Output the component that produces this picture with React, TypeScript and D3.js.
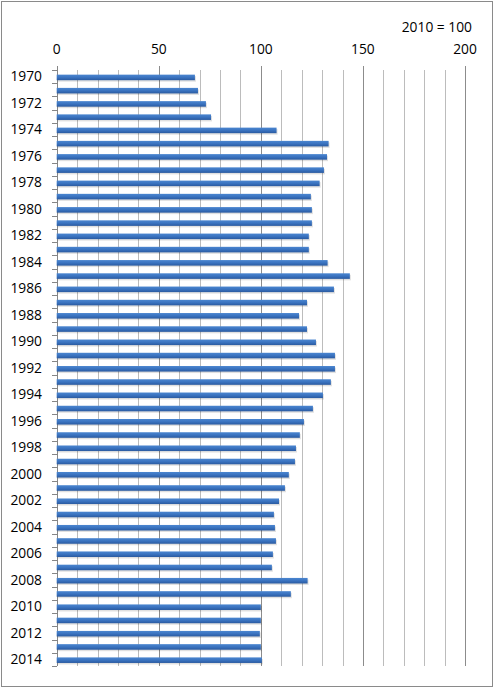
import React from "react";
import * as d3 from "d3";

const years: number[] = d3.range(1970, 2015);
const values: number[] = [
  67.7, 69.2, 73.1, 75.6, 107.7,
  133.2, 132.4, 130.9, 128.8, 124.5,
  125.0, 125.0, 123.5, 123.5, 132.7,
  143.6, 135.8, 122.6, 118.7, 122.6,
  127.0, 136.3, 136.3, 134.3, 130.4,
  125.5, 121.1, 119.1, 117.2, 116.7,
  113.7, 111.8, 108.9, 106.4, 106.9,
  107.4, 105.9, 105.4, 122.9, 114.7,
  100.0, 100.0, 99.5, 100.0, 100.5,
];
const xTicks: number[] = [0, 50, 100, 150, 200];
const minorTicks: number[] = d3.range(0, 201, 10);
const unitLabel = "2010 = 100";

const W = 494;
const H = 688;
const left = 56.7;
const right = 465;
const top = 70;
const bottom = 666;
const font = "'Open Sans', 'Liberation Sans', sans-serif";

export default function App() {
  const x = d3.scaleLinear().domain([0, 200]).range([left, right]);
  const y = d3
    .scaleBand<number>()
    .domain(years)
    .range([top, bottom])
    .paddingInner(0.58)
    .paddingOuter(0.29);
  const band = d3.scaleBand<number>().domain(years).range([top, bottom]);
  const step = band.step();

  return (
    <div style={{ position: "absolute", left: 0, top: 0 }}>
      <svg width={W} height={H} style={{ display: "block" }}>
        <defs>
          <linearGradient id="barg" x1="0" y1="0" x2="0" y2="1">
            <stop offset="0" stopColor="#4b86d0" />
            <stop offset="0.5" stopColor="#3a73c0" />
            <stop offset="1" stopColor="#2a5aa0" />
          </linearGradient>
        </defs>
        <rect x={0} y={0} width={W} height={H} fill="#fff" />
        <rect x={1.5} y={1.5} width={491} height={685} fill="none" stroke="#8a8a8a" strokeWidth={1} />

        {/* minor gridlines */}
        {minorTicks
          .filter((t) => t % 50 !== 0)
          .map((t) => (
            <line key={"m" + t} x1={Math.round(x(t)) + 0.5} x2={Math.round(x(t)) + 0.5} y1={top} y2={bottom} stroke="#bcbcbc" strokeWidth={1} />
          ))}
        {/* major gridlines + ticks */}
        {xTicks.map((t) => (
          <g key={"M" + t}>
            <line x1={Math.round(x(t)) + 0.5} x2={Math.round(x(t)) + 0.5} y1={top - 4} y2={bottom} stroke={t === 0 ? "#868686" : "#8c8c8c"} strokeWidth={1} />
            <text x={x(t)} y={53.5} textAnchor="middle" fontFamily={font} fontSize={13.8} fill="#000">
              {t}
            </text>
          </g>
        ))}

        {/* left axis ticks at category boundaries */}
        {d3.range(years.length + 1).map((i) => {
          const yy = Math.round(top + i * step) + 0.5;
          return <line key={"t" + i} x1={52} x2={57} y1={yy} y2={yy} stroke="#868686" strokeWidth={1} />;
        })}

        {/* bars */}
        {years.map((yr, i) => {
          const y0 = (y(yr) as number) + 0.8;
          const h = y.bandwidth();
          return (
            <g key={"b" + yr}>
              <rect x={x(0) + 1} y={y0 + 1.5} width={x(values[i]) - x(0)} height={h} fill="#000" opacity={0.12} />
              <rect x={x(0)} y={y0} width={x(values[i]) - x(0)} height={h} fill="url(#barg)" />
            </g>
          );
        })}

        {/* year labels */}
        {years
          .filter((yr) => yr % 2 === 0)
          .map((yr) => (
            <text key={"l" + yr} x={42} y={(band(yr) as number) + step / 2 + 4.8} textAnchor="end" fontFamily={font} fontSize={13.8} fill="#000">
              {yr}
            </text>
          ))}

        <text x={472} y={31.5} textAnchor="end" fontFamily={font} fontSize={13.8} fill="#000">
          {unitLabel}
        </text>
      </svg>
    </div>
  );
}
